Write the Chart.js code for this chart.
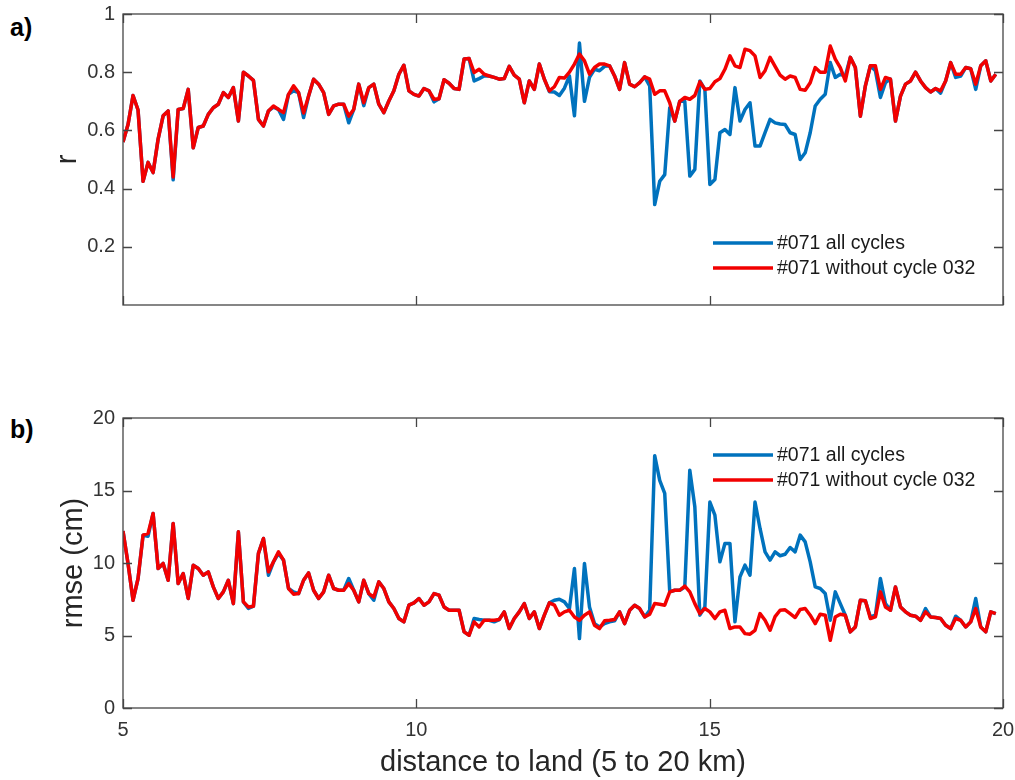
<!DOCTYPE html>
<html>
<head>
  <meta charset="utf-8">
  <title>r and rmse vs distance to land</title>
  <style>
    body { margin: 0; background: #fff; width: 1015px; height: 780px; position: relative; overflow: hidden;
           font-family: "Liberation Sans", Arial, sans-serif; }
    .panel { position: absolute; left: 10px; font-weight: bold; font-size: 25px; line-height: 29px; color: #000; }
    canvas { position: absolute; left: 0; }
  </style>
</head>
<body>
<script src="https://cdn.jsdelivr.net/npm/chart.js"></script>
<div class="panel" style="top:13px;">a)</div>
<div class="panel" style="top:415px;">b)</div>
<canvas id="rChart" width="1015" height="320" style="top:0px;"></canvas>
<canvas id="rmseChart" width="1015" height="390" style="top:390px;"></canvas>
<script>
  // along-track sampling: first point at 5 km, one sample every ~85 m
  const START_KM = 5;
  const STEP_KM = 0.0855;

  const xTicks = [5, 10, 15, 20];
  const rTicks = [0.2, 0.4, 0.6, 0.8, 1];
  const rmseTicks = [0, 5, 10, 15, 20];

  const seriesLabels = ['#071 all cycles', '#071 without cycle 032'];

  // panel a) correlation r
  const r_all = [
    0.56, 0.62, 0.72, 0.67, 0.425, 0.49, 0.455, 0.57, 0.65, 0.667,
    0.43, 0.672, 0.675, 0.741, 0.54, 0.61, 0.615, 0.655, 0.678, 0.69,
    0.73, 0.713, 0.747, 0.632, 0.80, 0.787, 0.772, 0.638, 0.615, 0.667,
    0.68, 0.672, 0.638, 0.724, 0.736, 0.73, 0.644, 0.718, 0.776, 0.759,
    0.73, 0.655, 0.684, 0.69, 0.69, 0.626, 0.672, 0.759, 0.685, 0.747,
    0.759, 0.69, 0.661, 0.701, 0.736, 0.793, 0.824, 0.736, 0.724, 0.718,
    0.744, 0.736, 0.698, 0.709, 0.774, 0.762, 0.744, 0.741, 0.845, 0.847,
    0.77, 0.778, 0.787, 0.787, 0.782, 0.776, 0.778, 0.82, 0.79, 0.776,
    0.695, 0.77, 0.741, 0.828, 0.776, 0.733, 0.732, 0.72, 0.745, 0.787,
    0.65, 0.90, 0.70, 0.782, 0.81, 0.805, 0.82, 0.822, 0.787, 0.741,
    0.833, 0.759, 0.75, 0.764, 0.784, 0.753, 0.345, 0.425, 0.448, 0.678,
    0.632, 0.70, 0.70, 0.443, 0.466, 0.77, 0.741, 0.414, 0.431, 0.592,
    0.603, 0.586, 0.747, 0.632, 0.672, 0.695, 0.546, 0.546, 0.592, 0.638,
    0.626, 0.622, 0.62, 0.592, 0.586, 0.50, 0.523, 0.592, 0.684, 0.707,
    0.724, 0.833, 0.782, 0.793, 0.787, 0.851, 0.816, 0.649, 0.753, 0.822,
    0.805, 0.713, 0.764, 0.776, 0.632, 0.718, 0.759, 0.77, 0.80, 0.77,
    0.747, 0.732, 0.744, 0.728, 0.77, 0.833, 0.782, 0.787, 0.816, 0.812,
    0.741, 0.822, 0.839, 0.77, 0.793
  ];
  const r_no032 = [
    0.56, 0.62, 0.72, 0.67, 0.425, 0.49, 0.455, 0.57, 0.65, 0.667,
    0.44, 0.672, 0.675, 0.741, 0.54, 0.61, 0.615, 0.655, 0.678, 0.69,
    0.73, 0.713, 0.747, 0.632, 0.80, 0.787, 0.772, 0.638, 0.615, 0.667,
    0.684, 0.672, 0.661, 0.724, 0.753, 0.73, 0.66, 0.718, 0.776, 0.759,
    0.73, 0.655, 0.684, 0.69, 0.69, 0.649, 0.672, 0.759, 0.695, 0.747,
    0.759, 0.69, 0.661, 0.701, 0.736, 0.793, 0.824, 0.736, 0.724, 0.718,
    0.744, 0.736, 0.707, 0.709, 0.774, 0.762, 0.744, 0.741, 0.845, 0.847,
    0.799, 0.81, 0.793, 0.787, 0.782, 0.776, 0.778, 0.82, 0.79, 0.776,
    0.695, 0.77, 0.741, 0.828, 0.776, 0.736, 0.75, 0.782, 0.78, 0.80,
    0.828, 0.862, 0.839, 0.793, 0.816, 0.828, 0.828, 0.822, 0.787, 0.741,
    0.833, 0.759, 0.75, 0.764, 0.784, 0.776, 0.724, 0.736, 0.736, 0.695,
    0.632, 0.70, 0.713, 0.707, 0.72, 0.767, 0.741, 0.744, 0.767, 0.778,
    0.81, 0.856, 0.822, 0.816, 0.879, 0.874, 0.856, 0.782, 0.805, 0.851,
    0.82, 0.79, 0.776, 0.787, 0.782, 0.741, 0.738, 0.764, 0.816, 0.80,
    0.80, 0.89, 0.845, 0.816, 0.77, 0.851, 0.816, 0.649, 0.753, 0.822,
    0.822, 0.741, 0.782, 0.776, 0.632, 0.718, 0.759, 0.77, 0.80, 0.77,
    0.747, 0.732, 0.744, 0.736, 0.77, 0.833, 0.793, 0.793, 0.816, 0.812,
    0.759, 0.822, 0.839, 0.77, 0.793
  ];

  // panel b) rmse in cm
  const rmse_all = [
    12.2, 9.97, 7.43, 8.93, 11.92, 11.85, 13.42, 9.62, 9.97, 8.81,
    12.73, 8.58, 9.27, 7.55, 9.85, 9.62, 9.16, 9.39, 8.35, 7.55,
    8.01, 8.81, 7.2, 12.15, 7.32, 6.86, 7.02, 10.66, 11.69, 9.16,
    10.08, 10.66, 10.2, 8.24, 8.01, 7.89, 8.81, 9.32, 8.12, 7.55,
    8.01, 9.16, 8.24, 8.12, 8.12, 8.93, 8.12, 7.32, 8.81, 7.89,
    7.43, 8.7, 8.24, 7.32, 6.86, 6.17, 5.94, 7.09, 7.25, 7.55,
    7.09, 7.32, 7.89, 7.78, 6.97, 6.74, 6.74, 6.74, 5.25, 5.02,
    6.17, 6.1, 6.05, 6.05, 5.94, 6.1, 6.63, 5.48, 6.17, 6.63,
    7.2, 6.17, 6.63, 5.48, 6.4, 7.25, 7.43, 7.5, 7.32, 6.86,
    9.62, 4.79, 9.97, 6.97, 5.82, 5.59, 5.82, 5.94, 6.01, 6.63,
    5.82, 6.74, 7.09, 6.86, 6.28, 6.74, 17.4, 15.7, 14.8, 8.01,
    8.12, 8.12, 8.35, 16.4, 13.88, 6.4, 6.97, 14.2, 13.3, 10.08,
    11.35, 11.35, 5.94, 9.04, 9.85, 9.16, 14.2, 12.38, 10.77, 10.2,
    10.77, 10.5, 10.6, 11.07, 10.77, 11.92, 11.46, 10.08, 8.35, 8.24,
    7.89, 6.05, 8.01, 7.2, 6.4, 5.25, 5.59, 7.43, 7.39, 6.28,
    6.4, 8.93, 7.2, 6.74, 8.35, 6.97, 6.63, 6.4, 6.33, 6.05,
    6.86, 6.28, 6.24, 6.17, 5.71, 5.48, 6.33, 6.05, 5.59, 5.94,
    7.55, 5.59, 5.25, 6.63, 6.51
  ];
  const rmse_no032 = [
    12.2, 9.97, 7.43, 8.93, 11.92, 12.04, 13.42, 9.62, 9.97, 8.81,
    12.73, 8.58, 9.27, 7.55, 9.85, 9.62, 9.16, 9.39, 8.35, 7.55,
    8.01, 8.81, 7.2, 12.15, 7.32, 6.97, 7.02, 10.66, 11.69, 9.39,
    10.08, 10.77, 10.2, 8.24, 7.85, 7.89, 8.81, 9.32, 8.12, 7.55,
    8.01, 9.16, 8.24, 8.12, 8.12, 8.58, 8.12, 7.32, 8.81, 7.89,
    7.66, 8.7, 8.24, 7.32, 6.86, 6.17, 5.94, 7.09, 7.25, 7.55,
    7.09, 7.32, 7.89, 7.78, 6.97, 6.74, 6.74, 6.74, 5.25, 5.02,
    5.94, 5.59, 6.05, 6.05, 6.05, 6.1, 6.63, 5.48, 6.17, 6.63,
    7.2, 6.17, 6.63, 5.48, 6.4, 7.25, 7.1, 6.4, 6.63, 6.74,
    6.28, 6.05, 6.4, 6.63, 5.71, 5.48, 6.01, 6.05, 6.1, 6.63,
    5.82, 6.74, 7.09, 6.86, 6.28, 6.47, 7.2, 7.16, 7.09, 8.01,
    8.12, 8.12, 8.4, 8.01, 7.2, 6.51, 6.86, 6.63, 6.17, 6.63,
    6.74, 5.48, 5.59, 5.59, 5.13, 5.09, 5.36, 6.51, 6.05, 5.36,
    6.3, 6.74, 6.77, 6.51, 6.24, 6.79, 6.86, 6.4, 5.82, 6.47,
    6.4, 4.67, 6.28, 6.47, 6.4, 5.25, 5.59, 7.43, 7.39, 6.17,
    6.28, 8.01, 6.97, 6.74, 8.35, 6.97, 6.63, 6.4, 6.33, 6.05,
    6.63, 6.28, 6.24, 6.17, 5.71, 5.48, 6.17, 6.05, 5.59, 5.94,
    6.86, 5.59, 5.25, 6.63, 6.51
  ];

  const distance = r_all.map((_, i) => +(START_KM + i * STEP_KM).toFixed(4));

  const BLUE = '#0072BD';
  const RED = '#F20000';
  const FONT = '"Liberation Sans", Arial, sans-serif';

  // MATLAB style box with inward ticks on all four sides
  const matlabBox = {
    id: 'matlabBox',
    afterDraw(chart) {
      const { ctx, chartArea: a, scales } = chart;
      const len = 9;
      ctx.save();
      ctx.strokeStyle = '#454545';
      ctx.lineWidth = 1.3;
      ctx.beginPath();
      scales.x.ticks.forEach(t => {
        const px = Math.round(scales.x.getPixelForValue(t.value)) + 0.5;
        ctx.moveTo(px, a.bottom); ctx.lineTo(px, a.bottom - len);
        ctx.moveTo(px, a.top); ctx.lineTo(px, a.top + len);
      });
      scales.y.ticks.forEach(t => {
        const py = Math.round(scales.y.getPixelForValue(t.value)) + 0.5;
        ctx.moveTo(a.left, py); ctx.lineTo(a.left + len, py);
        ctx.moveTo(a.right, py); ctx.lineTo(a.right - len, py);
      });
      ctx.stroke();
      ctx.strokeRect(a.left, a.top, a.right - a.left, a.bottom - a.top);
      ctx.restore();
    }
  };

  // legend drawn inside the axes, no box
  const insideLegend = {
    id: 'insideLegend',
    afterDatasetsDraw(chart, args, opts) {
      const { ctx, chartArea: a } = chart;
      ctx.save();
      ctx.font = '19.5px ' + FONT;
      ctx.textBaseline = 'middle';
      ctx.fillStyle = '#1a1a1a';
      chart.data.datasets.forEach((ds, k) => {
        const y = a.top + opts.firstY + k * 25;
        ctx.strokeStyle = ds.borderColor;
        ctx.lineWidth = 3.5;
        ctx.beginPath();
        ctx.moveTo(a.right - 290, y);
        ctx.lineTo(a.right - 230, y);
        ctx.stroke();
        ctx.fillText(ds.label, a.right - 226, y + 1);
      });
      ctx.restore();
    }
  };

  function makePanel(canvasId, allVals, noVals, yMin, yMax, yTicks, yTitle, yTitlePad, legendY, isBottom) {
    const toPoints = vals => vals.map((v, i) => ({ x: distance[i], y: v }));
    return new Chart(document.getElementById(canvasId), {
      type: 'line',
      data: {
        datasets: [
          { label: seriesLabels[0], data: toPoints(allVals), borderColor: BLUE, borderWidth: 3.5, order: 2,
            pointRadius: 0, tension: 0, borderJoinStyle: 'round', fill: false },
          { label: seriesLabels[1], data: toPoints(noVals), borderColor: RED, borderWidth: 3.5, order: 1,
            pointRadius: 0, tension: 0, borderJoinStyle: 'round', fill: false }
        ]
      },
      options: {
        responsive: false,
        animation: false,
        devicePixelRatio: 1,
        layout: { padding: { left: 0, right: 12, top: isBottom ? 28 : 14, bottom: isBottom ? 0 : 15 } },
        plugins: {
          legend: { display: false },
          tooltip: { enabled: false },
          insideLegend: { firstY: legendY }
        },
        scales: {
          x: {
            type: 'linear',
            min: 5, max: 20,
            afterBuildTicks: s => { s.ticks = xTicks.map(v => ({ value: v })); },
            afterFit: s => { s.height = isBottom ? 72 : 0; s.paddingLeft = 0; s.paddingRight = 0; },
            grid: { display: false, drawTicks: false },
            border: { display: false },
            ticks: { display: isBottom, padding: 10, color: '#333', font: { family: FONT, size: 20 } },
            title: { display: isBottom, text: 'distance to land (5 to 20 km)', color: '#262626',
                     font: { family: FONT, size: 29 }, padding: { top: 0, bottom: 0 } }
          },
          y: {
            min: yMin, max: yMax,
            afterBuildTicks: s => { s.ticks = yTicks.map(v => ({ value: v })); },
            afterFit: s => { s.width = 123; s.paddingTop = 0; s.paddingBottom = 0; },
            grid: { display: false, drawTicks: false },
            border: { display: false },
            ticks: { padding: 8, color: '#333', font: { family: FONT, size: 20 },
                     callback: v => String(v) },
            title: { display: true, text: yTitle, color: '#262626',
                     font: { family: FONT, size: 29 }, padding: { top: yTitlePad, bottom: 0 } }
          }
        }
      },
      plugins: [matlabBox, insideLegend]
    });
  }

  makePanel('rChart', r_all, r_no032, 0, 1, rTicks, 'r', 51, 229, false);
  makePanel('rmseChart', rmse_all, rmse_no032, 0, 20, rmseTicks, 'rmse (cm)', 57, 37, true);
</script>
</body>
</html>
